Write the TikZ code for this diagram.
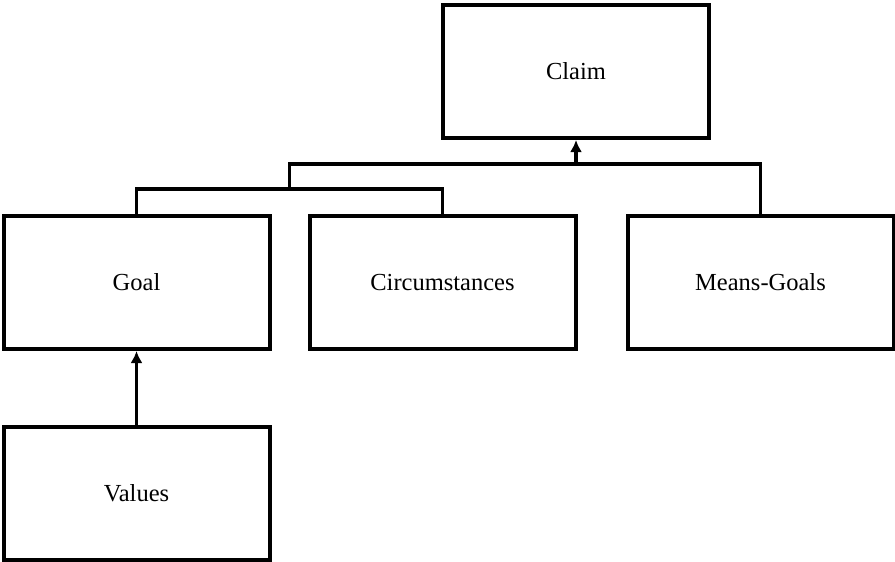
\documentclass[tikz,border=0pt]{standalone}
\usepackage{fontspec}
\setmainfont{Liberation Serif}
\usepackage{tikz}
\usetikzlibrary{arrows.meta,calc,positioning}

\tikzset{
  argbox/.style={draw=black,line width=4pt,fill=white,minimum width=266pt,minimum height=133pt,inner sep=0pt,font=\fontsize{24.5}{28}\selectfont},
  conn/.style={line width=3.5pt,draw=black},
}

\begin{document}
\begin{tikzpicture}[>={Latex[length=12pt,width=12pt]},node distance=36pt and 36pt]
\useasboundingbox (0,0) rectangle (895pt,-562pt);
\node[argbox] (goal) at (136.5pt,-282.5pt) {Goal};
\node[argbox,right=36pt of goal] (circ) {Circumstances};
\node[argbox,right=48pt of circ] (means) {Means-Goals};
\node[argbox,below=74pt of goal] (values) {Values};
\node[argbox] (claim) at (576pt,-71.5pt) {Claim};
\coordinate (lowbar) at ($(goal.north)!0.5!(circ.north)+(0,25pt)$);
\coordinate (topbar) at ($(lowbar)+(0,25pt)$);
\draw[conn] (goal.north) |- (lowbar) -| (circ.north);
\draw[conn] (lowbar) -- (topbar) -| (means.north);
\draw[conn,->] (topbar -| claim.south) -- (claim.south);
\draw[conn,->] (values.north) -- (goal.south);
\end{tikzpicture}
\end{document}
